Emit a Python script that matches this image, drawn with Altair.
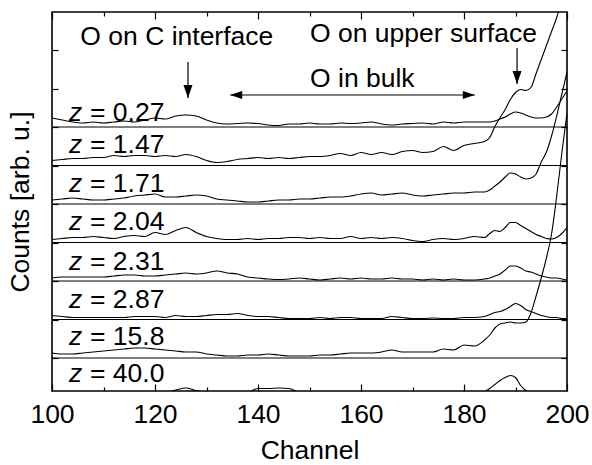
import altair as alt
import pandas as pd

FONT = "Liberation Sans"
FS = 26.5

# ---------------- data ----------------
channels = list(range(100, 185, 2)) + list(range(185, 201))

z_labels = ["0.27", "1.47", "1.71", "2.04", "2.31", "2.87", "15.8", "40.0"]
spacing = 38.5  # vertical offset between stacked spectra (arb. u.)

trace_0_27 = [9, 7, 5, 4, 5, 4, 5, 6, 5, 7, 9, 8, 11, 12, 11, 7, 4, 3, 3.5, 4, 3.5, 2, 1.5, 3, 3, 4, 3, 3, 4, 3.5,
              4, 5, 3, 2, 3, 3.5, 4, 3, 5, 4, 5, 5, 5,
              5, 6, 8, 10, 13, 15, 14, 12, 10, 9, 9, 10, 13, 20, 28, 36]
trace_1_47 = [5, 6, 7, 7, 8, 8, 10, 9, 10, 10, 9, 10, 9, 11, 9, 5, 3, 4, 6, 7, 8, 7, 8, 7, 8, 9, 9, 10, 12, 10,
              13, 11, 13, 11, 14, 15, 13, 14, 19, 15, 20, 22, 24,
              28, 39, 48, 56, 66, 73, 76, 75, 78, 92, 106, 120, 134, 148, 165, 180]
trace_1_71 = [4, 5, 6, 5, 4, 4, 5, 6, 8, 9, 10, 7, 7, 8, 9, 8, 5, 4, 3, 2, 2, 3, 4, 4, 5, 5, 6, 7, 7, 8,
              10, 11, 9, 10, 11, 9, 8, 9, 10, 11, 11, 12, 12,
              14, 18, 22, 27, 31, 30, 27, 25, 26, 30, 42, 52, 68, 88, 110, 132]
trace_2_04 = [3, 4, 5, 5, 6, 5, 4, 6, 7, 6, 10, 8, 12, 15, 10, 6, 4, 3, 3, 4, 3, 4, 4, 5, 5, 4, 5, 4, 4, 6,
              4, 5, 4, 5, 4, 2, 1, 3, 4, 3, 4, 6, 5,
              9, 12, 11, 15, 20, 20, 17, 14, 11, 8, 6, 4, 3.5, 5, 9, 15]
trace_2_31 = [3, 4, 4, 4, 4, 4, 5, 6, 6, 5, 5, 6, 7, 8, 7, 8, 10, 8, 7, 4, 3, 2, 1.5, 2, 3, 2, 1, 2, 3, 2,
              3, 2, 2, 3, 2, 2, 1, 2, 1, 2, 1, 1, 2,
              3, 5, 7, 11, 15, 15, 13, 10, 9, 7, 5, 4, 3, 3, 2, 1]
trace_2_87 = [4, 3, 2, 2, 2, 2, 2, 2, 3, 3, 3, 2, 4, 3, 3, 4, 5, 5, 6, 4, 3, 3, 2, 1, 1, 1, 2, 1, 2, 2,
              1, 1, 1, 3, 2, 1, 1, 1.5, 1, 1, 2, 2, 3,
              5, 7, 8, 10, 13, 16, 14, 10, 8, 6, 4, 3, 2, 2, 1, 1]
trace_15_8 = [5, 4, 4, 5, 6, 7, 8, 9, 10, 10, 9, 8, 7, 6, 6, 4, 3, 2, 2, 3, 3, 4, 3, 2, 2, 2, 3, 3, 4, 5,
              5, 5, 6, 8, 6, 6, 6, 6, 9, 8, 13, 12, 18,
              23, 30, 34, 35, 36, 35, 35, 36, 45, 62, 80, 100, 124, 162, 205, 245]
trace_40_0 = [2, 3, 2, 3, 2, 3, 2, 3, 2, 3, 4, 4, 6.5, 8.5, 6, 4, 3, 2, 3, 4, 8, 8, 8.5, 8, 4, 3, 2, 3, 2, 3,
              4, 3, 2, 3, 2, 3, 4, 3, 2, 3, 3, 4, 5,
              8, 12, 16, 19, 21, 19, 11, 6, 4, 3, 2, 2, 2, 1, 1, 1]

traces = [trace_0_27, trace_1_47, trace_1_71, trace_2_04, trace_2_31, trace_2_87, trace_15_8, trace_40_0]

# label placement (channel of label start, lift above own baseline)
label_channel = 103.3
label_lift = [6, 13, 12, 13, 11, 12, 13, 15]

# annotations
ann_text = ["O on C interface", "O on upper surface", "O in bulk"]
ann_x = [105.5, 150.1, 150.1]
ann_y = [351.5, 354.5, 309.5]

arrow_down_x = [126.4, 190.3]
arrow_down_top = [334.5, 348.5]
arrow_down_tip = [298.5, 312.5]
bulk_arrow_y = 301.5
bulk_arrow_x = [134.6, 182.1]

x_ticks = list(range(100, 201, 10))
y_ticks = [k * spacing for k in range(1, 10)]

# ---------------- tables ----------------
rows = []
for i, (z, vals) in enumerate(zip(z_labels, traces)):
    base = (7 - i) * spacing
    for ch, v in zip(channels, vals):
        rows.append({"z": z, "channel": ch, "y": base + v})
df = pd.DataFrame(rows)

base_df = pd.DataFrame({"z": z_labels, "base": [(7 - i) * spacing for i in range(len(z_labels))]})
lab_df = base_df.copy()
lab_df["y"] = lab_df["base"] + label_lift
lab_df["x"] = label_channel
lab_df["rest"] = "= " + lab_df["z"]

ann_df = pd.DataFrame({"text": ann_text, "x": ann_x, "y": ann_y})
down_df = pd.DataFrame({"x": arrow_down_x, "y1": arrow_down_top, "y2": arrow_down_tip})
bulk_df = pd.DataFrame({"x1": [bulk_arrow_x[0]], "x2": [bulk_arrow_x[1]], "y": [bulk_arrow_y]})
left_tip_df = pd.DataFrame({"x": [bulk_arrow_x[0]], "y": [bulk_arrow_y]})
right_tip_df = pd.DataFrame({"x": [bulk_arrow_x[1]], "y": [bulk_arrow_y]})

# ---------------- scales / axes ----------------
XS = alt.Scale(domain=[100, 200], nice=False, zero=False)
YS = alt.Scale(domain=[5.5, 384.5], nice=False, zero=False)

xtick_expr = {"expr": "datum.value % 20 === 0 ? -7 : -4"}

bottom_axis = alt.Axis(
    orient="bottom", values=x_ticks, tickSize=xtick_expr, tickColor="black", tickWidth=1.2,
    labelExpr="datum.value % 20 === 0 ? datum.label : ''", labelFont=FONT, labelFontSize=FS,
    labelColor="black", labelPadding=17, labelFlush=False, labelOverlap=False,
    domain=False, grid=False, title="Channel", titleFont=FONT, titleFontSize=FS,
    titleFontWeight="normal", titleColor="black", titleY=67, titleBaseline="alphabetic",
)
left_axis = alt.Axis(
    orient="left", values=y_ticks, tickSize={"expr": "-6"}, tickColor="black", tickWidth=1.2,
    labels=False, domain=False, grid=False, title="Counts [arb. u.]", titleFont=FONT,
    titleFontSize=FS, titleFontWeight="normal", titleColor="black", titleX=-24, titleY=189.5,
    titleAngle=270, titleAlign="center", titleBaseline="alphabetic",
)
top_axis = alt.Axis(
    orient="top", values=x_ticks, tickSize=xtick_expr, tickColor="black", tickWidth=1.2,
    labels=False, domain=False, grid=False, title="",
)
right_axis = alt.Axis(
    orient="right", values=y_ticks, tickSize={"expr": "-6"}, tickColor="black", tickWidth=1.2,
    labels=False, domain=False, grid=False, title="",
)

# ---------------- layers ----------------
lines = alt.Chart(df).mark_line(clip=True, interpolate="monotone", color="black", strokeWidth=1.1).encode(
    x=alt.X("channel:Q", scale=XS, axis=bottom_axis),
    y=alt.Y("y:Q", scale=YS, axis=left_axis),
    detail="z:N",
)

baselines = alt.Chart(base_df).mark_rule(clip=True, color="black", strokeWidth=1.1).encode(
    y=alt.Y("base:Q", scale=YS, axis=None),
)

down_shafts = alt.Chart(down_df).mark_rule(color="black", strokeWidth=1.2).encode(
    x=alt.X("x:Q", scale=XS, axis=top_axis),
    y=alt.Y("y1:Q", scale=YS, axis=right_axis),
    y2="y2:Q",
)
down_heads = alt.Chart(down_df).mark_point(
    shape="M-4.5,-13 L4.5,-13 L0,0 Z", size=4, filled=True, color="black", opacity=1, strokeWidth=0
).encode(
    x=alt.X("x:Q", scale=XS, axis=None),
    y=alt.Y("y2:Q", scale=YS, axis=None),
)

bulk_shaft = alt.Chart(bulk_df).mark_rule(color="black", strokeWidth=1.2).encode(
    x=alt.X("x1:Q", scale=XS, axis=None),
    x2="x2:Q",
    y=alt.Y("y:Q", scale=YS, axis=None),
)
left_head = alt.Chart(left_tip_df).mark_point(
    shape="M0,0 L12,-4 L12,4 Z", size=4, filled=True, color="black", opacity=1, strokeWidth=0
).encode(x=alt.X("x:Q", scale=XS, axis=None), y=alt.Y("y:Q", scale=YS, axis=None))
right_head = alt.Chart(right_tip_df).mark_point(
    shape="M0,0 L-12,-4 L-12,4 Z", size=4, filled=True, color="black", opacity=1, strokeWidth=0
).encode(x=alt.X("x:Q", scale=XS, axis=None), y=alt.Y("y:Q", scale=YS, axis=None))

z_italic = alt.Chart(lab_df).mark_text(
    align="left", baseline="alphabetic", font=FONT, fontSize=FS, fontStyle="italic", color="black", text="z"
).encode(x=alt.X("x:Q", scale=XS, axis=None), y=alt.Y("y:Q", scale=YS, axis=None))
z_rest = alt.Chart(lab_df).mark_text(
    align="left", baseline="alphabetic", font=FONT, fontSize=FS, color="black", dx=21
).encode(x=alt.X("x:Q", scale=XS, axis=None), y=alt.Y("y:Q", scale=YS, axis=None), text="rest:N")

ann = alt.Chart(ann_df).mark_text(
    align="left", baseline="alphabetic", font=FONT, fontSize=FS, color="black"
).encode(x=alt.X("x:Q", scale=XS, axis=None), y=alt.Y("y:Q", scale=YS, axis=None), text="text:N")

chart = alt.layer(
    lines, baselines, down_shafts, down_heads, bulk_shaft, left_head, right_head, z_italic, z_rest, ann
).resolve_axis(
    x="independent", y="independent"
).properties(
    width=515, height=379,
    padding={"left": 52, "top": 12, "right": 25, "bottom": 74},
    autosize=alt.AutoSizeParams(type="none"),
    background="white",
).configure_view(stroke="black", strokeWidth=1.6)

chart.save("out.html", embed_options={"renderer": "svg", "actions": False})
